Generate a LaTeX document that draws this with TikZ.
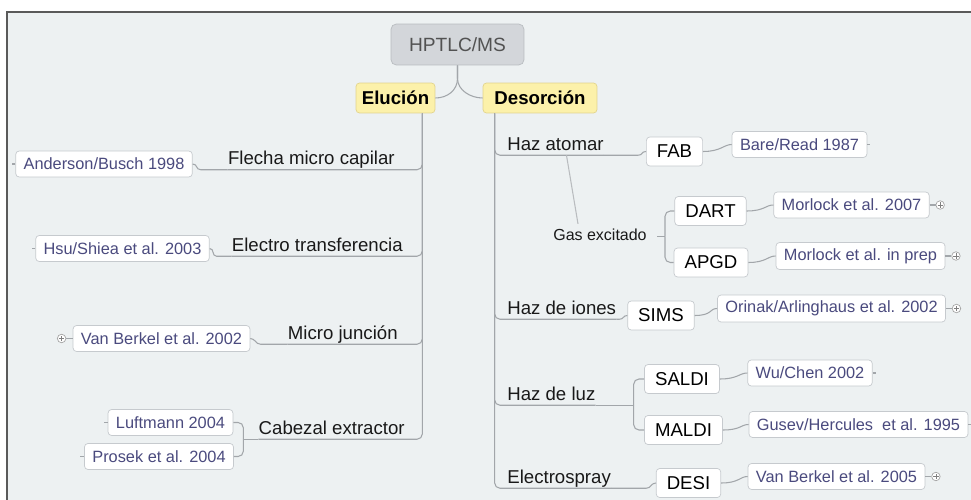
\documentclass[tikz,border=0pt]{standalone}
\usepackage{fontspec}
\setmainfont{Liberation Sans}
\usepackage{tikz}
\usetikzlibrary{positioning}
\usepackage{xcolor}

\definecolor{bgcol}{HTML}{EDF1F2}
\definecolor{framecol}{HTML}{5A5A5A}
\definecolor{linecol}{HTML}{A2A6AA}
\definecolor{citecol}{HTML}{4A4A7E}
\definecolor{boxline}{HTML}{C6CACE}
\definecolor{rootfill}{HTML}{D3D6DA}
\definecolor{rootline}{HTML}{B8BCC0}
\definecolor{topicfill}{HTML}{FCF1AA}
\definecolor{topicline}{HTML}{E2D48C}

\begin{document}
\begin{tikzpicture}[x=0.02cm, y=-0.02cm]
  \tikzset{
root/.style={draw=rootline, fill=rootfill, rounded corners=3pt,
    minimum width=2.66cm, minimum height=0.82cm,
    text=black!68, font=\fontsize{10.9}{13}\selectfont},
topic/.style={draw=topicline, fill=topicfill, rounded corners=2pt,
    minimum height=0.6cm, font=\fontsize{10.6}{13}\selectfont\bfseries},
lbl/.style={inner sep=0pt, text height=0.75em, text depth=0.25em,
    text=black!90, font=\fontsize{10.6}{13}\selectfont},
kid/.style={draw=boxline, fill=white, rounded corners=2pt,
    inner xsep=6pt, minimum height=0.58cm, font=\fontsize{10.6}{13}\selectfont},
cite/.style={draw=boxline, fill=white, rounded corners=2pt,
    inner xsep=4.5pt, minimum height=0.52cm, text=citecol,
    font=\fontsize{9.3}{11}\selectfont},
conn/.style={draw=linecol, line width=0.6pt},
expander/.style={circle, draw=gray!70, fill=white, inner sep=0pt,
    minimum size=0.17cm,
    path picture={\draw [gray, line width=0.35pt]
      ([xshift=-1.5pt]path picture bounding box.center) -- ([xshift=1.5pt]path picture bounding box.center)
      ([yshift=-1.5pt]path picture bounding box.center) -- ([yshift=1.5pt]path picture bounding box.center);}},
}

  \useasboundingbox (0,0) rectangle (971,500);

  % sheet and frame
  \fill [white] (0,0) rectangle (971,500);
  \fill [bgcol] (7,12) rectangle (971,500);
  \draw [framecol, line width=0.8pt] (7,500) -- (7,12) -- (971,12);

  % Nodes
  \node [root] (hptlc) at (457.5,44.5) {HPTLC/MS};
  \node [topic, minimum width=1.54cm] (elu) at (395.5,98) {Elución};
  \node [topic, minimum width=2.28cm] (des) at (540,98) {Desorción};
  \coordinate (eluT) at ([xshift=-0.26cm]elu.south east);
  \coordinate (desT) at ([xshift=0.24cm]des.south west);

  % elution branch
  \node [lbl, anchor=base east] (flecha) at (395,165) {Flecha micro capilar};
  \node [lbl, anchor=base east] (electro) at (403,251.5) {Electro transferencia};
  \node [lbl, anchor=base east] (micro) at (398,339.5) {Micro junción};
  \node [lbl, anchor=base east] (cabezal) at (405,434.5) {Cabezal extractor};
  \node [cite] (anderson) at (104,164) {Anderson/Busch 1998};
  \node [cite] (hsu) at (122.5,248.5) {Hsu/Shiea et al. 2003};
  \node [cite] (vberk02) at (161.5,338.5) {Van Berkel et al. 2002};
  \node [cite] (luftmann) at (170.5,422.5) {Luftmann 2004};
  \node [cite] (prosek) at (159,456.5) {Prosek et al. 2004};
  \node [expander, left=0.13cm of vberk02] (vberk02x) {};

  % desorption branch
  \node [lbl, anchor=base west] (atomar) at (507,150.5) {Haz atomar};
  \node [lbl, anchor=base west] (iones) at (507,314.5) {Haz de iones};
  \node [lbl, anchor=base west] (luz) at (507,400.5) {Haz de luz};
  \node [lbl, anchor=base west] (spray) at (507,483.5) {Electrospray};
  \node [lbl, inner xsep=0.2cm, inner ysep=2pt, font=\fontsize{9.1}{11}\selectfont] (gas) at (600,236.5) {Gas excitado};
  \node [kid] (fab) at (674.5,151.5) {FAB};
  \node [kid] (dart) at (710.5,211) {DART};
  \node [kid] (apgd) at (711,262.5) {APGD};
  \node [kid] (sims) at (661,315.5) {SIMS};
  \node [kid] (saldi) at (682,379) {SALDI};
  \node [kid] (maldi) at (683.5,430) {MALDI};
  \node [kid] (desi) at (688.5,483) {DESI};
  \node [cite] (bare) at (799.5,144.5) {Bare/Read 1987};
  \node [cite] (morl07) at (851.5,205) {Morlock et al. 2007};
  \node [cite] (morlprep) at (860.5,256) {Morlock et al. in prep};
  \node [cite] (orinak) at (831.5,308.5) {Orinak/Arlinghaus et al. 2002};
  \node [cite] (wuchen) at (810,373) {Wu/Chen 2002};
  \node [cite] (gusev) at (858.5,424.5) {Gusev/Hercules\ \ et al. 1995};
  \node [cite] (vberk05) at (836.5,476.5) {Van Berkel et al. 2005};
  \node [expander, right=0.12cm of morl07] (morl07x) {};
  \node [expander, right=0.12cm of morlprep] (morlprepx) {};
  \node [expander, right=0.12cm of orinak] (orinakx) {};
  \node [expander, right=0.12cm of vberk05] (vberk05x) {};

  % root to main topics
  \draw [conn] (hptlc.south) -- ++(0,13) .. controls +(0,12) and +(12,0) .. (elu.east);
  \draw [conn] (hptlc.south) -- ++(0,13) .. controls +(0,12) and +(-12,0) .. (des.west);

  % elution lines
  \draw [conn, rounded corners=3pt] (eluT) |- (flecha.south west);
  \draw [conn, rounded corners=3pt] (eluT) |- (electro.south west);
  \draw [conn, rounded corners=3pt] (eluT) |- (micro.south west);
  \draw [conn, rounded corners=3pt] (eluT) |- (cabezal.south west);
  \draw [conn] (flecha.south west) -- ++(-27,0) .. controls +(-5,0) and +(5,0) .. (anderson.east);
  \draw [conn] (electro.south west) -- ++(-15,0) .. controls +(-5,0) and +(5,0) .. (hsu.east);
  \draw [conn] (micro.south west) -- ++(-27,0) .. controls +(-5,0) and +(5,0) .. (vberk02.east);
  \draw [conn] (cabezal.south west) -- ++(-15,0) coordinate (cabj);
  \draw [conn, rounded corners=3pt] (cabj) |- (luftmann.east);
  \draw [conn, rounded corners=3pt] (cabj) |- (prosek.east);
  \draw [conn] (vberk02.west) -- (vberk02x.east);
  \draw [conn] (anderson.west) -- ++(-3,0);
  \draw [conn] (hsu.west) -- ++(-3,0);
  \draw [conn] (luftmann.west) -- ++(-4,0);
  \draw [conn] (prosek.west) -- ++(-4,0);

  % desorption lines
  \draw [conn, rounded corners=3pt] (desT) |- (atomar.south east);
  \draw [conn, rounded corners=3pt] (desT) |- (iones.south east);
  \draw [conn, rounded corners=3pt] (desT) |- (luz.south east);
  \draw [conn, rounded corners=3pt] (desT) |- (spray.south east);
  \draw [conn] (atomar.south east) -- ++(34,0) .. controls +(5,0) and +(-5,0) .. (fab.west);
  \draw [conn] (iones.south east) -- ++(3,0) .. controls +(5,0) and +(-5,0) .. (sims.west);
  \draw [conn] (luz.south east) -- ++(38,0) coordinate (luzj);
  \draw [conn, rounded corners=3pt] (luzj) |- (saldi.west);
  \draw [conn, rounded corners=3pt] (luzj) |- (maldi.west);
  \draw [conn] (spray.south east) -- ++(35,0) .. controls +(5,0) and +(-5,0) .. (desi.west);
  \draw [conn, draw=linecol!75] ([xshift=0.22cm]atomar.south) -- ([xshift=-0.44cm]gas.north);
  \draw [conn] (gas.east) -- ++(8,0) coordinate (gasj);
  \draw [conn, rounded corners=3pt] (gasj) |- (dart.west);
  \draw [conn, rounded corners=3pt] (gasj) |- (apgd.west);

  % boxes to references
  \draw [conn] (fab.east) .. controls +(18,0) and +(-8,0) .. (bare.west);
  \draw [conn] (dart.east) .. controls +(18,0) and +(-8,0) .. (morl07.west);
  \draw [conn] (apgd.east) .. controls +(18,0) and +(-8,0) .. (morlprep.west);
  \draw [conn] (sims.east) .. controls +(18,0) and +(-8,0) .. (orinak.west);
  \draw [conn] (saldi.east) .. controls +(18,0) and +(-8,0) .. (wuchen.west);
  \draw [conn] (maldi.east) .. controls +(18,0) and +(-8,0) .. (gusev.west);
  \draw [conn] (desi.east) .. controls +(18,0) and +(-8,0) .. (vberk05.west);
  \draw [conn] (morl07.east) -- (morl07x.west);
  \draw [conn] (morlprep.east) -- (morlprepx.west);
  \draw [conn] (orinak.east) -- (orinakx.west);
  \draw [conn] (vberk05.east) -- (vberk05x.west);
  \draw [conn] (bare.east) -- ++(3,0);
  \draw [conn] (wuchen.east) -- ++(3,0);
  \draw [conn] (gusev.east) -- ++(3,0);
\end{tikzpicture}
\end{document}
